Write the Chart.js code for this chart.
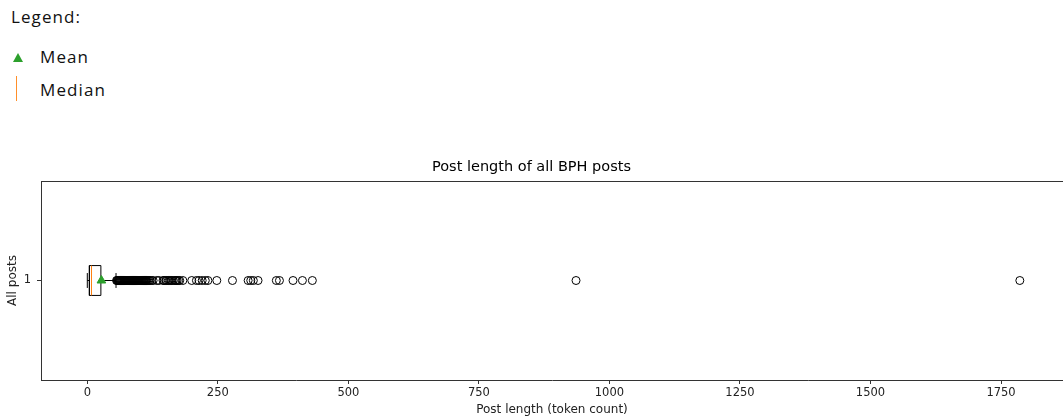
<!DOCTYPE html>
<html>
<head>
<meta charset="utf-8">
<script src="https://cdn.jsdelivr.net/npm/chart.js@4.4.1/dist/chart.umd.min.js"></script>
<style>
  body { margin: 0; background: #fff; }
  #wrap { position: absolute; left: 0; top: 0; width: 1063px; height: 420px; }
  .leg { position: absolute; font-family: "Open Sans", sans-serif; font-size: 17px; line-height: 17px; letter-spacing: 1.1px; color: #111; }
  #tri { position: absolute; left: 13px; top: 53px; width: 0; height: 0;
         border-left: 5px solid transparent; border-right: 5px solid transparent; border-bottom: 9px solid #2ca02c; }
  #med { position: absolute; left: 16px; top: 76px; width: 1px; height: 25px; background: #ff8f2a; }
</style>
</head>
<body>
<div class="leg" style="left:11px; top:8px;">Legend:</div>
<div id="tri"></div>
<div class="leg" style="left:40px; top:48px;">Mean</div>
<div id="med"></div>
<div class="leg" style="left:40px; top:81px;">Median</div>

<div id="wrap"><canvas id="myChart" width="1063" height="420"></canvas></div>

<script>
 // dados do boxplot (token count)
 const categories = ['1'];
 const whiskerLow = [0];
 const q1 = [4];
 const median = [8];
 const q3 = [26];
 const whiskerHigh = [55];
 const mean = [27];
 const outliers = [
     56, 57, 58, 59, 60, 61, 62, 63, 64, 65, 66, 67, 68, 69, 70, 71, 72, 73, 74, 75,
     76, 77, 78, 79, 80, 81, 82, 83, 84, 85, 86, 87, 88, 89, 90, 91, 92, 93, 94, 95,
     96, 97, 98, 99, 100, 101, 102, 103, 104, 105, 106, 107, 108, 109, 110, 111, 112, 113, 114, 116,
     118, 120, 123, 126, 133, 137, 145, 147, 150, 152, 155, 157, 160, 162, 165, 168, 170, 172, 175, 177,
     183, 200, 209, 214, 220, 226, 231, 248, 278, 308, 313, 318, 327, 362, 368, 394, 412, 431,
     936, 1786
 ];
 const xTicks = [0, 250, 500, 750, 1000, 1250, 1500, 1750];

 const yPos = 1;       // posicao da caixa
 const half = 0.075;   // meia altura da caixa
 const cap = 0.0375;   // meia altura do cap

 const seg = (pts, color) => ({
     data: pts, showLine: true, pointRadius: 0, borderColor: color, borderWidth: 1, fill: false
 });

 // moldura (borda de cima)
 const frame = {
     id: 'frame',
     afterDraw(chart) {
         const a = chart.chartArea, c = chart.ctx;
         c.save();
         c.strokeStyle = '#333';
         c.lineWidth = 1;
         c.beginPath();
         c.moveTo(a.left, a.top + 0.5);
         c.lineTo(a.right, a.top + 0.5);
         c.stroke();
         c.restore();
     }
 };

 const ctx = document.getElementById('myChart');

 new Chart(ctx, {
     type: 'scatter',
     data: {
         datasets: [
             { data: [{x: mean[0], y: yPos}], pointStyle: 'triangle', pointRadius: 5,
               backgroundColor: '#2ca02c', borderColor: '#2ca02c', borderWidth: 1 },
             seg([{x: median[0], y: yPos - half}, {x: median[0], y: yPos + half}], '#ff7f0e'),
             seg([{x: q1[0], y: yPos - half}, {x: q3[0], y: yPos - half}, {x: q3[0], y: yPos + half},
                  {x: q1[0], y: yPos + half}, {x: q1[0], y: yPos - half}], '#000'),
             seg([{x: whiskerLow[0], y: yPos}, {x: q1[0], y: yPos}], '#000'),
             seg([{x: whiskerLow[0], y: yPos - cap}, {x: whiskerLow[0], y: yPos + cap}], '#000'),
             seg([{x: q3[0], y: yPos}, {x: whiskerHigh[0], y: yPos}], '#000'),
             seg([{x: whiskerHigh[0], y: yPos - cap}, {x: whiskerHigh[0], y: yPos + cap}], '#000'),
             { data: outliers.map(v => ({x: v, y: yPos})), pointStyle: 'circle', pointRadius: 4,
               backgroundColor: 'rgba(0,0,0,0)', borderColor: '#000', borderWidth: 1 }
         ]
     },
     options: {
         responsive: false,
         animation: false,
         layout: { autoPadding: false, padding: { top: 159, left: 0, right: 0, bottom: 0 } },
         plugins: {
             legend: { display: false },
             tooltip: { enabled: false },
             title: {
                 display: true,
                 text: 'Post length of all BPH posts',
                 color: '#000',
                 font: { family: 'DejaVu Sans', size: 14.5, weight: 'normal' },
                 padding: { top: 0, bottom: 4.6 }
             }
         },
         scales: {
             x: {
                 type: 'linear',
                 min: -88.7,
                 max: 1868.7,
                 afterBuildTicks: (s) => { s.ticks = xTicks.map(v => ({value: v})); },
                 afterFit: (s) => { s.height = 40; },
                 grid: { display: true, drawOnChartArea: false, drawTicks: true, tickLength: 4, color: '#333' },
                 border: { display: true, color: '#333', width: 1 },
                 ticks: { color: '#222', padding: 2, maxRotation: 0, autoSkip: false,
                          callback: (v) => String(v),
                          font: { family: 'DejaVu Sans', size: 11.5 } },
                 title: { display: true, text: 'Post length (token count)', color: '#222',
                          font: { family: 'DejaVu Sans', size: 12 }, padding: { top: 0, bottom: 3 } }
             },
             y: {
                 type: 'linear',
                 min: 0.5,
                 max: 1.5,
                 afterBuildTicks: (s) => { s.ticks = categories.map(c => ({value: Number(c)})); },
                 afterFit: (s) => { s.width = 41; },
                 grid: { display: true, drawOnChartArea: false, drawTicks: true, tickLength: 4, color: '#333' },
                 border: { display: true, color: '#333', width: 1 },
                 ticks: { color: '#222', padding: 6, callback: (v) => String(v),
                          font: { family: 'DejaVu Sans', size: 11.5 } },
                 title: { display: true, text: 'All posts', color: '#222',
                          font: { family: 'DejaVu Sans', size: 12 }, padding: { top: 6, bottom: 0 } }
             }
         }
     },
     plugins: [frame]
 });
</script>
</body>
</html>
